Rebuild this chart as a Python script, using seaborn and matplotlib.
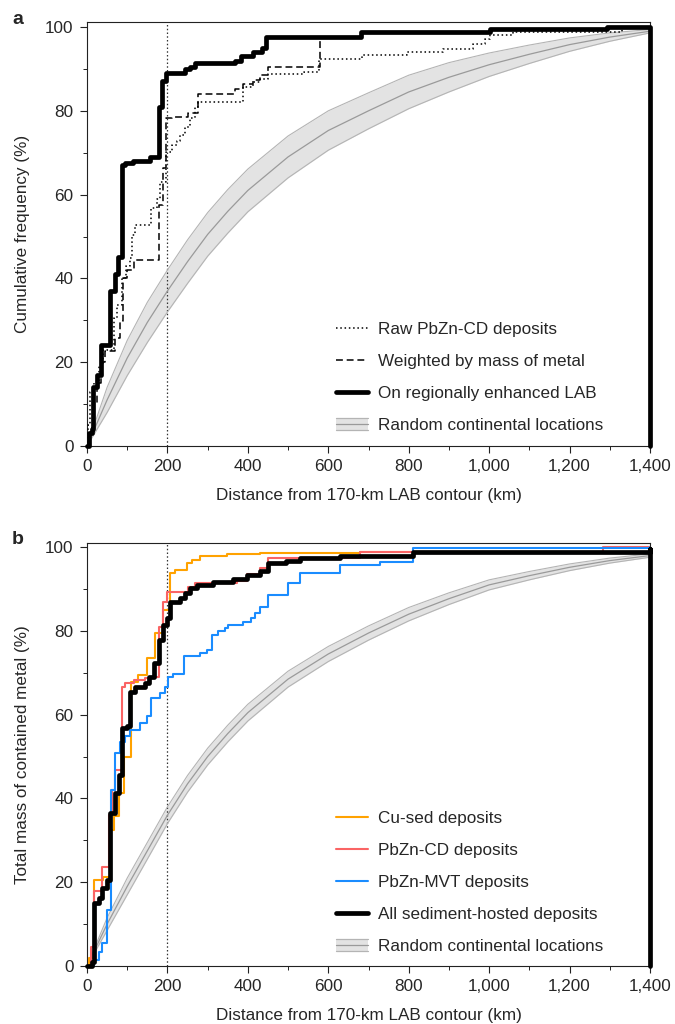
import numpy as np
import matplotlib
matplotlib.use('Agg')
import matplotlib.pyplot as plt
import seaborn as sns
from matplotlib.legend_handler import HandlerBase
from matplotlib.patches import Rectangle
from matplotlib.lines import Line2D
from matplotlib.ticker import MultipleLocator, FuncFormatter

sns.set_style('ticks')
plt.rcParams['font.family'] = ['Liberation Sans', 'DejaVu Sans']
FS = 12.3
plt.rcParams['font.size'] = FS

# ---------------------------------------------------------------------------
# Panel a data (distance km, cumulative %), step positions
# ---------------------------------------------------------------------------
raw_x = [0, 3, 8, 18, 29, 40, 66, 74, 87, 98, 107, 112, 120, 160, 174, 182, 197,
         211, 223, 231, 244, 256, 269, 277, 388, 413, 430, 450, 540, 578, 684,
         796, 886, 960, 990, 1002, 1060, 1330, 1400]
raw_y = [0, 5, 13, 15, 19.4, 23, 30.5, 33.7, 40, 43, 44.8, 50.4, 52.8, 56.7, 59,
         63, 70.2, 71.8, 72.7, 74.2, 76.2, 78.2, 81, 82.1, 85.7, 86.9, 87.7, 88.7,
         89.3, 92.3, 93.3, 94, 94.8, 96, 97.2, 98.1, 98.8, 100, 100]

wtd_x = [0, 5, 15, 25, 35, 45, 70, 81, 89, 99, 116, 180, 188, 197, 211, 252, 277,
         368, 388, 413, 430, 450, 580, 682, 1002, 1293, 1400]
wtd_y = [0, 3, 10, 15, 20, 22.6, 25.8, 29.8, 40, 42, 44.4, 57.5, 66.3, 78.2, 78.6,
         79.4, 84.1, 85.2, 86.5, 87.3, 88.5, 90.5, 97.6, 98.7, 99.5, 100, 100]

lab_x = [0, 4, 12, 15, 25, 36, 56, 69, 77, 87, 95, 115, 157, 178, 186, 197, 244,
         255, 268, 368, 384, 413, 434, 446, 682, 1002, 1293, 1400, 1400]
lab_y = [0, 3, 4, 14, 17, 24, 37, 41, 45, 67, 67.5, 68, 69, 81, 87, 89, 90, 90.5,
         91.3, 92, 93, 94, 95, 97.7, 98.7, 99.5, 100, 100, 0]

rand_x = [0, 50, 100, 150, 200, 250, 300, 350, 400, 500, 600, 700, 800, 900,
          1000, 1100, 1200, 1300, 1400]
rand_mean_a = [0, 11, 21, 29.5, 37, 44, 50.5, 56, 61, 69, 75.3, 80, 84.5, 88, 91,
               93.5, 95.8, 97.6, 99]
rand_half_a = [0, 3, 4.2, 4.8, 5, 5.2, 5.2, 5.2, 5.1, 5, 4.7, 4.3, 4, 3.5, 2.8,
               2.2, 1.6, 1, 0.4]

# ---------------------------------------------------------------------------
# Panel b data (distance km, total mass %)
# ---------------------------------------------------------------------------
cu_x = [0, 5, 17, 41, 58, 66, 79, 91, 109, 128, 149, 169, 190, 207, 219, 248,
        260, 281, 347, 430, 678, 1400]
cu_y = [0, 2, 20.5, 21.3, 32.5, 35.7, 41.2, 50, 67.9, 69.5, 73.5, 79.5, 85, 93.8,
        94.6, 96.2, 97, 97.8, 98.3, 98.6, 98.8, 98.8]

cd_x = [0, 10, 17, 37, 54, 62, 70, 87, 95, 116, 145, 169, 178, 190, 200, 252, 269,
        372, 397, 430, 450, 679, 1284, 1400]
cd_y = [0, 4.6, 18, 23.7, 36, 42, 46.8, 66.7, 67.5, 68.3, 68.7, 69.1, 81, 87, 89.4,
        90.6, 91.4, 92, 93.5, 95, 97.4, 98.9, 100, 100]

mvt_x = [0, 8, 17, 29, 37, 50, 60, 70, 81, 95, 107, 132, 149, 159, 182, 194, 202,
         215, 240, 281, 298, 310, 326, 343, 351, 388, 409, 417, 430, 450, 500, 529,
         629, 729, 811, 1400]
mvt_y = [0, 0, 1.4, 3.4, 5.4, 13.4, 42, 50.8, 53.6, 54.8, 56.4, 58, 59.6, 63.9,
         65.1, 66.7, 69.1, 69.7, 73.9, 74.7, 75.5, 79.1, 79.9, 80.7, 81.4, 82.2, 83,
         84.2, 85.8, 88.6, 91.4, 93.9, 95.7, 96.5, 99.7, 100]

all_x = [0, 12, 18, 29, 37, 50, 58, 70, 79, 87, 99, 107, 120, 145, 153, 167, 178,
         190, 200, 207, 231, 244, 256, 273, 314, 364, 397, 430, 450, 496, 529, 629,
         811, 1400, 1400]
all_y = [0, 1, 15, 16.2, 18.6, 20.5, 36.5, 41.2, 45.6, 56.8, 57.2, 65.5, 66.7,
         67.5, 69.1, 72.3, 77.9, 81.4, 83, 87, 87.8, 89, 90.2, 91, 91.8, 92.4, 93.4,
         94.2, 96.2, 96.8, 97.4, 97.9, 98.9, 99.5, 0]

rand_mean_b = [0, 10, 19, 27.5, 36, 43.5, 50, 55.5, 60.5, 68.5, 74.5, 79.5, 84,
               87.7, 91, 93.2, 95.2, 96.8, 98]
rand_half_b = [0, 1.5, 2, 2, 2, 2, 2, 2, 2, 1.9, 1.8, 1.7, 1.6, 1.4, 1.2, 1, 0.8,
               0.6, 0.4]

BAND_FILL = '#e3e3e3'
BAND_EDGE = '#b4b4b4'
BAND_MID = '#9a9a9a'


class HandlerBand(HandlerBase):
    def create_artists(self, legend, orig_handle, xdescent, ydescent, width,
                       height, fontsize, trans):
        x0, y0 = -xdescent, -ydescent
        arts = [Rectangle((x0, y0), width, height, facecolor=BAND_FILL,
                          edgecolor='none', transform=trans)]
        for yy, c in [(y0, BAND_EDGE), (y0 + height / 2, BAND_MID),
                      (y0 + height, BAND_EDGE)]:
            arts.append(Line2D([x0, x0 + width], [yy, yy], color=c, lw=0.9,
                               transform=trans))
        return arts


def step(ax, x, y, **kw):
    sns.lineplot(x=np.array(x, float), y=np.array(y, float), ax=ax,
                 estimator=None, sort=False, drawstyle='steps-post', **kw)


def band(ax, x, mean, half):
    x = np.array(x, float)
    m = np.array(mean, float)
    h = np.array(half, float)
    ax.fill_between(x, m - h, m + h, color=BAND_FILL, lw=0, zorder=1)
    sns.lineplot(x=x, y=m - h, ax=ax, color=BAND_EDGE, lw=0.8, zorder=1.5)
    sns.lineplot(x=x, y=m + h, ax=ax, color=BAND_EDGE, lw=0.8, zorder=1.5)
    sns.lineplot(x=x, y=m, ax=ax, color=BAND_MID, lw=0.9, zorder=1.6)


def style_axes(ax, ylabel, top):
    ax.set_xlim(0, 1400)
    ax.set_ylim(0, top)
    ax.xaxis.set_major_locator(MultipleLocator(200))
    ax.xaxis.set_minor_locator(MultipleLocator(100))
    ax.yaxis.set_major_locator(MultipleLocator(20))
    ax.yaxis.set_minor_locator(MultipleLocator(10))
    ax.xaxis.set_major_formatter(FuncFormatter(lambda v, p: f'{v:,.0f}'))
    ax.tick_params(axis='both', which='major', length=4.7, width=0.8,
                   labelsize=FS, color='#222222')
    ax.tick_params(axis='both', which='minor', length=2.6, width=0.7,
                   color='#222222')
    ax.tick_params(axis='x', pad=5)
    ax.tick_params(axis='y', pad=5)
    for s in ax.spines.values():
        s.set_visible(True)
        s.set_linewidth(0.8)
        s.set_color('#222222')
    ax.axvline(200, color='#333333', lw=0.9, ls=(0, (1.2, 1.8)), zorder=1.2)
    ax.set_xlabel('Distance from 170-km LAB contour (km)', fontsize=FS, labelpad=9.5)
    ax.set_ylabel(ylabel, fontsize=FS, labelpad=11)


fig = plt.figure(figsize=(6.75, 10.24), dpi=100)
ax_a = fig.add_axes([87 / 675, 1 - 446 / 1024, 563 / 675, 424 / 1024])
ax_b = fig.add_axes([87 / 675, 1 - 966 / 1024, 563 / 675, 423 / 1024])

leg_kw = dict(frameon=False, loc='upper left', bbox_transform=fig.transFigure,
              borderpad=0, borderaxespad=0, handlelength=1.87, handletextpad=0.58,
              labelspacing=1.0, fontsize=FS, handler_map={str: HandlerBand()})

# ---- panel a ----
band(ax_a, rand_x, rand_mean_a, rand_half_a)
step(ax_a, raw_x, raw_y, color='black', lw=1.1, ls=(0, (1, 1.8)), zorder=3)
step(ax_a, wtd_x, wtd_y, color='black', lw=1.1, ls=(0, (4.5, 2.5)), zorder=3)
step(ax_a, lab_x, lab_y, color='black', lw=3.4, zorder=4, clip_on=False)
style_axes(ax_a, 'Cumulative frequency (%)', 101.2)

h_a = [Line2D([], [], color='black', lw=1.1, ls=(0, (1, 1.8))),
       Line2D([], [], color='black', lw=1.1, ls=(0, (4.5, 2.5))),
       Line2D([], [], color='black', lw=3.4),
       'band']
ax_a.legend(h_a, ['Raw PbZn-CD deposits', 'Weighted by mass of metal',
                  'On regionally enhanced LAB', 'Random continental locations'],
            bbox_to_anchor=(336 / 675, 1 - 322 / 1024), **leg_kw)

# ---- panel b ----
band(ax_b, rand_x, rand_mean_b, rand_half_b)
step(ax_b, cu_x, cu_y, color='#ffa200', lw=1.5, zorder=3)
step(ax_b, cd_x, cd_y, color='#fa6464', lw=1.5, zorder=3.1)
step(ax_b, mvt_x, mvt_y, color='#1a8cff', lw=1.5, zorder=3.2)
step(ax_b, all_x, all_y, color='black', lw=3.4, zorder=4, clip_on=False)
style_axes(ax_b, 'Total mass of contained metal (%)', 101)

h_b = [Line2D([], [], color='#ffa200', lw=1.5),
       Line2D([], [], color='#fa6464', lw=1.5),
       Line2D([], [], color='#1a8cff', lw=1.5),
       Line2D([], [], color='black', lw=3.4),
       'band']
ax_b.legend(h_b, ['Cu-sed deposits', 'PbZn-CD deposits', 'PbZn-MVT deposits',
                  'All sediment-hosted deposits', 'Random continental locations'],
            bbox_to_anchor=(336 / 675, 1 - 811 / 1024), **leg_kw)

fig.text(18 / 675, 1 - 20 / 1024, 'a', fontsize=14, fontweight='bold',
         ha='center', va='center')
fig.text(18 / 675, 1 - 540 / 1024, 'b', fontsize=14, fontweight='bold',
         ha='center', va='center')

fig.savefig('out.png', dpi=100)
